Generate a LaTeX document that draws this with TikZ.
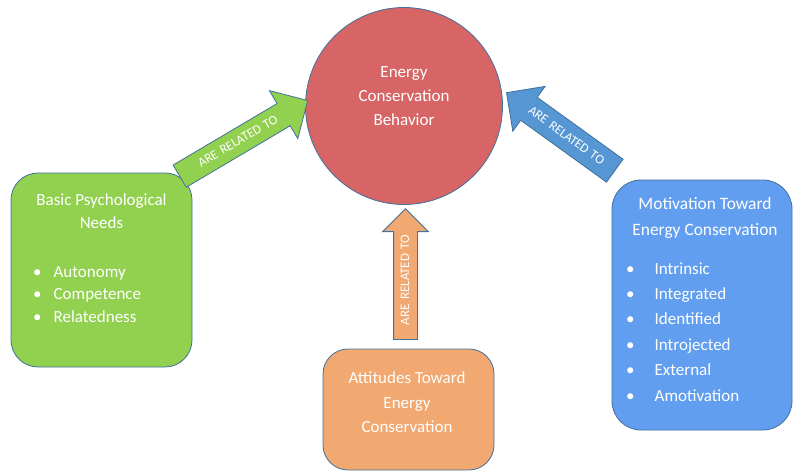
\documentclass[tikz,border=0pt]{standalone}
\usepackage{fontspec}
\setmainfont{Carlito}
\usetikzlibrary{shapes.arrows}

\definecolor{edgeblue}{RGB}{65,113,156}
\definecolor{ecbred}{RGB}{215,101,101}
\definecolor{needgreen}{RGB}{146,208,80}
\definecolor{attorange}{RGB}{241,168,113}
\definecolor{motblue}{RGB}{97,158,240}
\definecolor{arrowblue}{RGB}{86,150,211}

\tikzset{
  card/.style={draw=edgeblue, line width=0.8pt, rounded corners=27pt},
  txt/.style={text=white, font=\fontsize{17}{24}\selectfont, align=center},
  bullet/.style={text=white, font=\fontsize{17}{20}\selectfont, anchor=west, inner sep=0pt,
    text height=12pt, text depth=4pt},
  related/.style={single arrow, single arrow tip angle=90, draw=edgeblue, line width=0.8pt,
    text=white, font=\fontsize{13}{14}\selectfont, inner sep=0pt, align=center},
}

\begin{document}
\begin{tikzpicture}[x=1pt, y=-1pt]
  \useasboundingbox (0,0) rectangle (793,471);

  % Central circle
  \node[circle, draw=edgeblue, line width=0.8pt, fill=ecbred, minimum size=197pt] (ecb) at (404,106) {};
  \node[txt] (ecbtext) at (404,96) {Energy\\Conservation\\Behavior};

  % Basic psychological needs
  \node[card, fill=needgreen, minimum width=181pt, minimum height=194pt] (needs) at (101.5,270) {};
  \node[txt, font=\fontsize{17}{23}\selectfont] (needstext) at (101.5,211.5) {Basic Psychological\\Needs};
  \foreach \w [count=\i] in {Autonomy, Competence, Relatedness} {
    \node[bullet] (need\i) at (33,{250.5+22.5*\i}) {\textbullet\hspace{12pt}\w};
  }

  % Attitudes
  \node[card, rounded corners=25pt, fill=attorange, minimum width=171pt, minimum height=121pt] (att) at (408.5,409.5) {};
  \node[txt, font=\fontsize{17}{24.5}\selectfont] (atttext) at (407,402.5) {Attitudes Toward\\Energy\\Conservation};

  % Motivation
  \node[card, rounded corners=29pt, fill=motblue, minimum width=180pt, minimum height=250pt] (mot) at (702,305) {};
  \node[txt, font=\fontsize{17.4}{26}\selectfont] (mottext) at (705,218) {Motivation Toward\\Energy Conservation};
  \foreach \w [count=\i] in {Intrinsic, Integrated, Identified, Introjected, External, Amotivation} {
    \node[bullet] (mot\i) at (626,{244.6+25.4*\i}) {\textbullet\hspace{20pt}\w};
  }

  % Block arrows
  \node[related, fill=needgreen, rotate=30.6, text width=135pt, text height=16pt, text depth=9pt,
    single arrow head extend=15pt] (needarrow) at (238.1,141.6) {ARE RELATED TO};
  \node[related, fill=attorange, rotate=90, text width=118pt, text height=15pt, text depth=8pt,
    single arrow head extend=11pt] (attarrow) at (405.5,280) {ARE RELATED TO};
  \node[related, fill=arrowblue, rotate=-35.8, shape border rotate=180, text width=118.5pt,
    text height=17.5pt, text depth=10pt, single arrow head extend=13.5pt] (motarrow) at (566.4,135.8) {ARE RELATED TO};
\end{tikzpicture}
\end{document}
